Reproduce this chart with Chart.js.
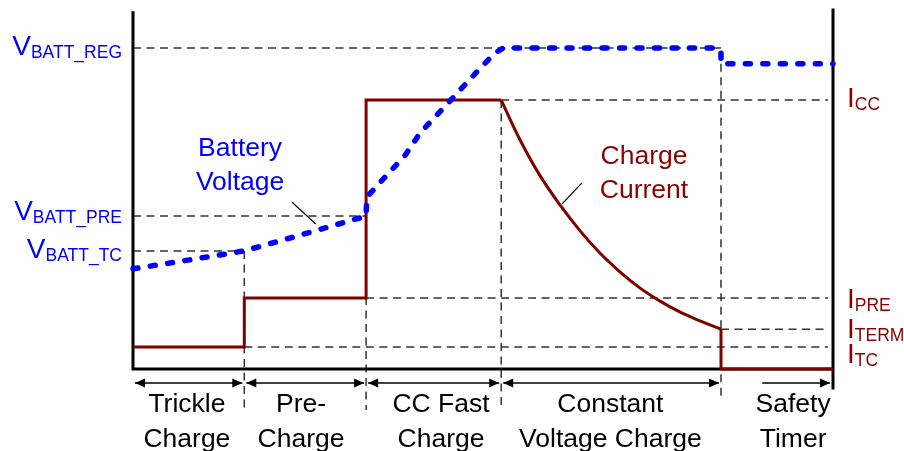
<!DOCTYPE html>
<html>
<head>
<meta charset="utf-8">
<script src="https://cdn.jsdelivr.net/npm/chart.js@4.4.1/dist/chart.umd.min.js"></script>
<style>
  html, body { margin: 0; padding: 0; background: #fff; }
  #wrap { width: 904px; height: 451px; }
</style>
</head>
<body>
<div id="wrap"><canvas id="chart" width="904" height="451"></canvas></div>
<script>
// phase boundaries on a normalised time axis (0..100)
const phaseEnds = [0, 15.9, 33.3, 52.6, 84.0, 100];
const phaseNames = [['Trickle', 'Charge'], ['Pre-', 'Charge'], ['CC Fast', 'Charge'], ['Constant', 'Voltage Charge'], ['Safety', 'Timer']];

// threshold levels on a normalised level axis (0..100)
const vLevelNames = ['BATT_REG', 'BATT_PRE', 'BATT_TC'];
const vLevels = [89.4, 42.6, 32.9];
const iLevelNames = ['CC', 'PRE', 'TERM', 'TC'];
const iLevels = [74.9, 19.8, 11.1, 6.1];

// battery voltage trace
const voltageT = [0, 8.1, 15.9, 23.9, 33.3, 33.4, 38.9, 41.0, 45.3, 49.6, 51.7, 52.9, 83.7, 84.0, 84.0, 100];
const voltageV = [27.9, 30.4, 32.9, 37.3, 42.6, 47.9, 59.6, 65.7, 74.7, 83.8, 88.0, 89.4, 89.4, 88.3, 85.0, 85.0];

// charge current trace
const currentT = [0, 15.9, 15.9, 33.3, 33.3, 52.6, 55.3, 58.1, 61.0, 63.9, 66.7, 69.6, 72.4, 75.3, 78.1, 81.0, 84.0, 84.0, 100];
const currentI = [6.1, 6.1, 19.8, 19.8, 74.9, 74.9, 63.8, 54.0, 45.7, 38.4, 32.3, 27.0, 22.6, 18.9, 15.9, 13.4, 11.1, 0, 0];

const FONT = "'Liberation Sans', Arial, sans-serif";
const BLUE = '#0000ff';
const MAROON = '#800000';
const TEXT_RED = '#8b0000';

const [T0, T1, T2, T3, T4, T5] = phaseEnds;
const [V_REG, V_PRE, V_TC] = vLevels;
const [I_CC, I_PRE, I_TERM, I_TC] = iLevels;
const V_TIMER = voltageV[voltageV.length - 1];
const GUIDE_END = 99.3;
const DROP_LONG = -11.4;
const DROP_SHORT = -7.8;

function pts(ts, vs) {
    return ts.map((t, i) => ({ x: t, y: vs[i] }));
}

function segments(list) {
    const out = [];
    list.forEach(s => {
        out.push({ x: s[0], y: s[1] }, { x: s[2], y: s[3] }, { x: s[2], y: null });
    });
    return out;
}

const guideData = segments([
    [T0, V_REG, T4, V_REG],
    [T3, I_CC, GUIDE_END, I_CC],
    [T0, V_PRE, T2, V_PRE],
    [T0, V_TC, T1, V_TC],
    [T2, I_PRE, GUIDE_END, I_PRE],
    [T4, I_TERM, GUIDE_END, I_TERM],
    [T1, I_TC, GUIDE_END, I_TC],
    [T1, V_TC, T1, DROP_LONG],
    [T2, V_PRE, T2, DROP_LONG],
    [T3, I_CC, T3, DROP_LONG],
    [T4, V_TIMER, T4, DROP_SHORT]
]);

const axisData = segments([
    [T0, 99.2, T0, 0],
    [T0, 0, T5, 0],
    [T5, 100, T5, -5.3]
]);

const currentPts = pts(currentT, currentI);
const decayPts = currentPts.slice(5, 17);
const stepPts = currentPts.slice(0, 6).concat([{ x: 52.6, y: null }], currentPts.slice(16));

function subLabel(ctx, main, sub, x, y, align, color) {
    ctx.fillStyle = color;
    ctx.textAlign = 'left';
    ctx.textBaseline = 'alphabetic';
    ctx.font = '28px ' + FONT;
    const wm = ctx.measureText(main).width;
    ctx.font = '17.5px ' + FONT;
    const ws = ctx.measureText(sub).width;
    const x0 = align === 'right' ? x - wm - ws : x;
    ctx.font = '28px ' + FONT;
    ctx.fillText(main, x0, y);
    ctx.font = '17.5px ' + FONT;
    ctx.fillText(sub, x0 + wm, y + 3);
}

function arrowHead(ctx, x, y, dir) {
    ctx.beginPath();
    ctx.moveTo(x, y);
    ctx.lineTo(x - dir * 10, y - 4.5);
    ctx.lineTo(x - dir * 10, y + 4.5);
    ctx.closePath();
    ctx.fill();
}

const diagramText = {
    id: 'diagramText',
    afterDatasetsDraw(chart) {
        const { ctx, chartArea } = chart;
        const xs = chart.scales.x, ys = chart.scales.y;
        ctx.save();

        // phase arrows
        const ay = ys.getPixelForValue(-3.9);
        ctx.strokeStyle = '#000';
        ctx.fillStyle = '#000';
        ctx.lineWidth = 1.5;
        for (let i = 0; i < 4; i++) {
            const a = xs.getPixelForValue(phaseEnds[i]) + 2;
            const b = xs.getPixelForValue(phaseEnds[i + 1]) - 2;
            ctx.beginPath();
            ctx.moveTo(a, ay);
            ctx.lineTo(b, ay);
            ctx.stroke();
            arrowHead(ctx, a, ay, -1);
            arrowHead(ctx, b, ay, 1);
        }
        const sa = xs.getPixelForValue(89.9), sb = xs.getPixelForValue(T5) - 3;
        ctx.beginPath();
        ctx.moveTo(sa, ay);
        ctx.lineTo(sb, ay);
        ctx.stroke();
        arrowHead(ctx, sb, ay, 1);

        // phase names
        const nameX = [7.7, 24.0, 44.0, 68.2, 94.3];
        ctx.font = '26.5px ' + FONT;
        ctx.textAlign = 'center';
        ctx.textBaseline = 'alphabetic';
        phaseNames.forEach((lines, i) => {
            const cx = xs.getPixelForValue(nameX[i]);
            ctx.fillText(lines[0], cx, chartArea.bottom + 43);
            ctx.fillText(lines[1], cx, chartArea.bottom + 78);
        });

        // voltage thresholds on the left
        const vDy = [7, 4, 7];
        vLevels.forEach((lv, i) => {
            subLabel(ctx, 'V', vLevelNames[i], chartArea.left - 11, ys.getPixelForValue(lv) + vDy[i], 'right', BLUE);
        });

        // current thresholds on the right
        const iDy = [7, 10, 9, 16];
        iLevels.forEach((lv, i) => {
            subLabel(ctx, 'I', iLevelNames[i], chartArea.right + 14, ys.getPixelForValue(lv) + iDy[i], 'left', TEXT_RED);
        });

        // trace annotations
        ctx.font = '26.5px ' + FONT;
        ctx.textAlign = 'center';
        ctx.fillStyle = BLUE;
        let bx = xs.getPixelForValue(15.3), by = ys.getPixelForValue(59.3);
        ctx.fillText('Battery', bx, by);
        ctx.fillText('Voltage', bx, by + 34);
        ctx.fillStyle = TEXT_RED;
        bx = xs.getPixelForValue(73.0); by = ys.getPixelForValue(57.1);
        ctx.fillText('Charge', bx, by);
        ctx.fillText('Current', bx, by + 34);

        // leader lines
        ctx.strokeStyle = '#000';
        ctx.lineWidth = 1.2;
        [[22.7, 46.5, 26.1, 40.4], [61.3, 46.0, 64.1, 51.8]].forEach(l => {
            ctx.beginPath();
            ctx.moveTo(xs.getPixelForValue(l[0]), ys.getPixelForValue(l[1]));
            ctx.lineTo(xs.getPixelForValue(l[2]), ys.getPixelForValue(l[3]));
            ctx.stroke();
        });
        ctx.restore();
    }
};

new Chart(document.getElementById('chart'), {
    type: 'line',
    data: {
        datasets: [
            {
                label: 'Battery Voltage',
                data: pts(voltageT, voltageV),
                borderColor: BLUE,
                borderWidth: 5.5,
                borderDash: [5, 12.5],
                borderCapStyle: 'round',
                borderJoinStyle: 'round',
                tension: 0,
                pointRadius: 0,
                clip: false
            },
            {
                label: 'Charge Current',
                data: stepPts,
                borderColor: MAROON,
                borderWidth: 3,
                borderJoinStyle: 'miter',
                tension: 0,
                spanGaps: false,
                pointRadius: 0,
                clip: false
            },
            {
                label: 'Charge Current decay',
                data: decayPts,
                borderColor: MAROON,
                borderWidth: 3,
                tension: 0.4,
                pointRadius: 0,
                clip: false
            },
            {
                label: 'Axes',
                data: axisData,
                borderColor: '#000',
                borderWidth: 3,
                borderCapStyle: 'square',
                tension: 0,
                spanGaps: false,
                pointRadius: 0,
                clip: false
            },
            {
                label: 'Guides',
                data: guideData,
                borderColor: '#333',
                borderWidth: 1.5,
                borderDash: [8, 5.5],
                tension: 0,
                spanGaps: false,
                pointRadius: 0,
                clip: false
            }
        ]
    },
    options: {
        responsive: false,
        animation: false,
        layout: { padding: { left: 133, right: 71, top: 10, bottom: 82 } },
        scales: {
            x: { type: 'linear', min: 0, max: 100, display: false },
            y: { type: 'linear', min: 0, max: 100, display: false }
        },
        plugins: {
            legend: { display: false },
            tooltip: { enabled: false }
        }
    },
    plugins: [diagramText]
});
</script>
</body>
</html>
